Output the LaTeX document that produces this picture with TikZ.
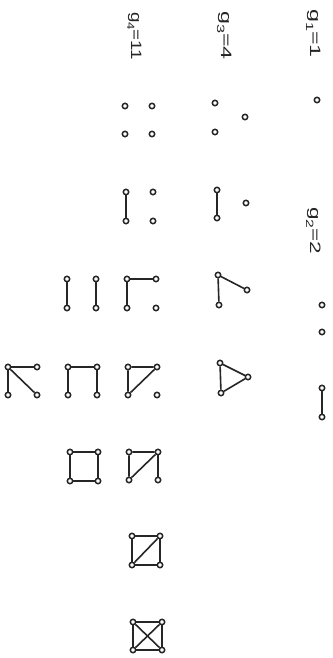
\documentclass[tikz,border=0pt]{standalone}
\usepackage{fontspec}
\setmainfont{Liberation Sans}
\begin{document}
\begin{tikzpicture}[x=1pt,y=-1pt,
  v/.style={circle,draw=black!85,fill=white,inner sep=0pt,minimum size=5.4pt,line width=1.5pt},
  e/.style={draw=black!85,line width=1.6pt},
  lab/.style={anchor=base west,rotate=-90,inner sep=0pt,font=\fontsize{15}{17}\selectfont,text=black!85}]
\useasboundingbox (0,0) rectangle (332,658);
% labels
\node[lab] (l1) at (310,9) {\scalebox{1.55}[1]{g\raisebox{-0.5ex}{\fontsize{10.5}{12}\selectfont 1}=1}};
\node[lab] (l2) at (310,207) {\scalebox{1.5}[1]{g\raisebox{-0.5ex}{\fontsize{10.5}{12}\selectfont 2}=2}};
\node[lab] (l3) at (221,11) {\scalebox{1.55}[1]{g\raisebox{-0.5ex}{\fontsize{10.5}{12}\selectfont 3}=4}};
\node[lab] (l4) at (131,12) {\scalebox{1.25}[1]{g\raisebox{-0.5ex}{\fontsize{10.5}{12}\selectfont 4}=11}};
% g1
\node[v] (a1) at (317,100) {};
% g2
\node[v] (b1) at (322,305) {};
\node[v] (b2) at (322,332) {};
\node[v] (c1) at (322,388) {};
\node[v] (c2) at (322,417) {};
\draw[e] (c1) -- (c2);
% g3
\node[v] (d1) at (215,103) {};
\node[v] (d2) at (215,132) {};
\node[v] (d3) at (245,117) {};
\node[v] (e1) at (217,190) {};
\node[v] (e2) at (217,218) {};
\node[v] (e3) at (246,203) {};
\draw[e] (e1) -- (e2);
\node[v] (f1) at (218,275) {};
\node[v] (f2) at (219,305) {};
\node[v] (f3) at (247,290) {};
\draw[e] (f2) -- (f1) -- (f3);
\node[v] (g1) at (220,363) {};
\node[v] (g2) at (221,393) {};
\node[v] (g3) at (248,377) {};
\draw[e] (g1) -- (g2) -- (g3) -- (g1);
% g4
\node[v] (h1) at (125,106) {};
\node[v] (h2) at (152,106) {};
\node[v] (h3) at (125,134) {};
\node[v] (h4) at (152,134) {};
\node[v] (i1) at (126,192) {};
\node[v] (i2) at (126,221) {};
\node[v] (i3) at (153,192) {};
\node[v] (i4) at (153,221) {};
\draw[e] (i1) -- (i2);
\node[v] (j1) at (127,279) {};
\node[v] (j2) at (156,279) {};
\node[v] (j3) at (127,308) {};
\node[v] (j4) at (156,308) {};
\draw[e] (j2) -- (j1) -- (j3);
\node[v] (k1) at (67,279) {};
\node[v] (k2) at (96,279) {};
\node[v] (k3) at (67,308) {};
\node[v] (k4) at (96,308) {};
\draw[e] (k1) -- (k3);
\draw[e] (k2) -- (k4);
\node[v] (m1) at (128,367) {};
\node[v] (m2) at (157,367) {};
\node[v] (m3) at (128,395) {};
\node[v] (m4) at (157,395) {};
\draw[e] (m1) -- (m2) -- (m3) -- (m1);
\node[v] (n1) at (68,367) {};
\node[v] (n2) at (97,367) {};
\node[v] (n3) at (68,395) {};
\node[v] (n4) at (97,395) {};
\draw[e] (n3) -- (n1) -- (n2) -- (n4);
\node[v] (o1) at (8,367) {};
\node[v] (o2) at (37,367) {};
\node[v] (o3) at (8,395) {};
\node[v] (o4) at (37,395) {};
\draw[e] (o1) -- (o2);
\draw[e] (o1) -- (o3);
\draw[e] (o1) -- (o4);
\node[v] (p1) at (129,452) {};
\node[v] (p2) at (158,452) {};
\node[v] (p3) at (129,480) {};
\node[v] (p4) at (158,480) {};
\draw[e] (p3) -- (p1) -- (p2) -- (p3);
\draw[e] (p2) -- (p4);
\node[v] (q1) at (70,452) {};
\node[v] (q2) at (98,452) {};
\node[v] (q3) at (70,481) {};
\node[v] (q4) at (98,481) {};
\draw[e] (q1) -- (q2) -- (q4) -- (q3) -- (q1);
\node[v] (r1) at (132,536) {};
\node[v] (r2) at (160,536) {};
\node[v] (r3) at (132,565) {};
\node[v] (r4) at (160,565) {};
\draw[e] (r1) -- (r2) -- (r4) -- (r3) -- (r1);
\draw[e] (r2) -- (r3);
\node[v] (s1) at (133,622) {};
\node[v] (s2) at (162,622) {};
\node[v] (s3) at (133,650) {};
\node[v] (s4) at (162,650) {};
\draw[e] (s1) -- (s2) -- (s4) -- (s3) -- (s1);
\draw[e] (s2) -- (s3);
\draw[e] (s1) -- (s4);
\end{tikzpicture}
\end{document}
